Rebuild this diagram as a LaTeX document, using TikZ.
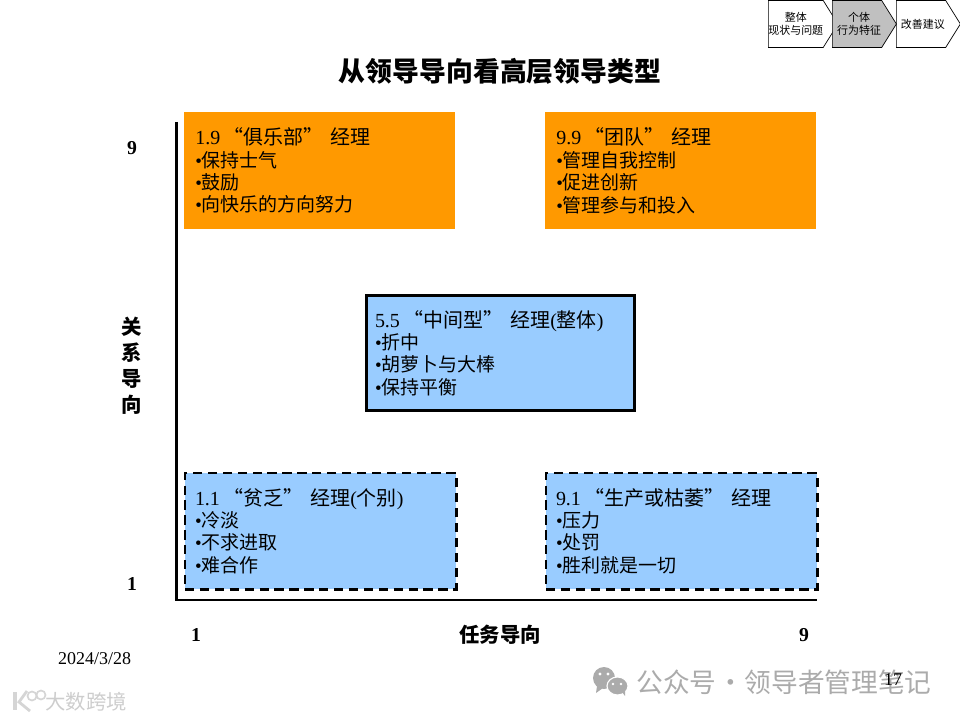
\documentclass[tikz,border=0pt]{standalone}
\usepackage{fontspec}
\setmainfont{Noto Sans CJK SC}
\newfontfamily\lat{Liberation Serif}
\usetikzlibrary{shapes.symbols}
\definecolor{boxorange}{HTML}{FF9900}
\definecolor{boxblue}{HTML}{99CCFF}
\definecolor{tabgray}{HTML}{C0C0C0}
\definecolor{markgray}{HTML}{ABABAB}
\newcommand{\bul}{{\lat •}}
\newcommand{\qopen}{\hspace{2.5pt}“}
\newcommand{\qclose}{”\hspace{5pt}}
\newcommand{\headline}[1]{{\fontsize{14.2}{15.9}\selectfont #1}}
\tikzset{
	typebox/.style={anchor=north west, minimum width=6.775cm, minimum height=2.925cm, inner xsep=0.275cm, inner ysep=0pt, text width=6.225cm, align=left, font=\fontsize{13.5}{15.9}\selectfont},
	framebox/.style={typebox, fill=boxblue, draw, line width=2.1pt, outer sep=0pt, minimum width=6.7cm, minimum height=2.875cm, inner xsep=0.2125cm, text width=6.275cm},
	dashbox/.style={framebox, dash pattern=on 6.6pt off 4pt, minimum width=6.775cm, minimum height=2.9cm, inner xsep=0.25cm},
	tabsign/.style={draw, signal, signal to=east, signal pointer angle=116, minimum width=1.6cm, minimum height=1.175cm, inner sep=0pt, line width=0.5pt, anchor=west, align=center, font=\fontsize{7.8}{10}\selectfont},
	axislabel/.style={align=center, font=\fontsize{14.5}{18.5}\selectfont\bfseries},
	scalenum/.style={font=\fontsize{14}{16}\lat\bfseries},
	axisline/.style={line width=2.1pt}
}
\begin{document}
\begin{tikzpicture}[x=0.025cm, y=-0.025cm]
	\useasboundingbox (0, 0) rectangle (960, 720);
	
	% Tabs
	\node[tabsign] (tabA) at (768, 24) {整体\\[-1pt]现状与问题};
	\node[tabsign, fill=tabgray] (tabB) at (832, 24) {\hspace*{2.9pt}个体\\[-1pt]\hspace*{2.9pt}行为特征};
	\node[tabsign] (tabC) at (896, 24) {\hspace*{2.7pt}改善建议};
	
	% Title
	\node[font=\fontsize{19.1}{22}\selectfont\bfseries] (title) at (500, 71) {从领导导向看高层领导类型};
	
	% Axes
	\coordinate (origin) at (176.5, 600);
	\coordinate (axisTop) at (176.5, 122);
	\coordinate (axisEnd) at (817, 600);
	\draw[axisline] (axisTop) -- (origin) -- (axisEnd);
	
	% Boxes
	\node[typebox, fill=boxorange] (clubBox) at (184, 112) {\headline{{\lat 1.9}\qopen 俱乐部\qclose 经理}\\\bul 保持士气\\\bul 鼓励\\\bul 向快乐的方向努力};
	\node[typebox, fill=boxorange] (teamBox) at (545, 112) {\headline{{\lat 9.9}\qopen 团队\qclose 经理}\\\bul 管理自我控制\\\bul 促进创新\\\bul 管理参与和投入};
	\node[framebox] (midBox) at (366.5, 295.5) {\headline{{\lat 5.5}\qopen 中间型\qclose 经理{\lat (}整体{\lat )}}\\\bul 折中\\\bul 胡萝卜与大棒\\\bul 保持平衡};
	\node[dashbox] (poorBox) at (185, 473) {\headline{{\lat 1.1}\qopen 贫乏\qclose 经理{\lat (}个别{\lat )}}\\\bul 冷淡\\\bul 不求进取\\\bul 难合作};
	\node[dashbox] (prodBox) at (546, 473) {\headline{{\lat 9.1}\qopen 生产或枯萎\qclose 经理}\\\bul 压力\\\bul 处罚\\\bul 胜利就是一切};
	
	% Axis labels
	\node[axislabel] (yLabel) at (132, 366) {关\\系\\导\\向};
	\node[axislabel] (xLabel) at (500, 635) {任务导向};
	\node[scalenum] (yNine) at (132, 148) {9};
	\node[scalenum] (yOne) at (132, 584) {1};
	\node[scalenum] (xOne) at (196, 635) {1};
	\node[scalenum] (xNine) at (804, 635) {9};
	
	% Watermarks
	\fill[markgray!50] (13, 692) rectangle (17, 710);
	\draw[markgray!50, line width=2pt] (27, 691) -- (19, 702) -- (30, 711);
	\draw[markgray!50, line width=1.2pt] (32, 696) circle (4.5) (41, 695) circle (4.5);
	\node[text=markgray!60, font=\fontsize{14.5}{16}\selectfont] (markLeft) at (86, 702) {大数跨境};
	\fill[markgray] (604, 678) ellipse (11 and 11);
	\fill[markgray] (597, 686) -- (596, 693) -- (603, 688) -- cycle;
	\fill[markgray, draw=white, line width=0.8pt] (617.5, 686) ellipse (10.5 and 9);
	\fill[markgray] (622, 692) -- (625, 696) -- (625, 690) -- cycle;
	\fill[white] (600, 674) circle (1.6) (608, 674) circle (1.6) (613, 684) circle (1.3) (621, 684) circle (1.3);
	\node[text=markgray, font=\fontsize{19}{22}\selectfont] (markRight) at (784, 682) {公众号\hspace{0.5pt}·\hspace{0.5pt}领导者管理笔记};
	
	% Footer
	\node[font=\fontsize{12.8}{15}\lat] (date) at (94.5, 659) {2024/3/28};
	\node[font=\fontsize{12.8}{15}\lat] (page) at (893, 680) {17};
\end{tikzpicture}
\end{document}
